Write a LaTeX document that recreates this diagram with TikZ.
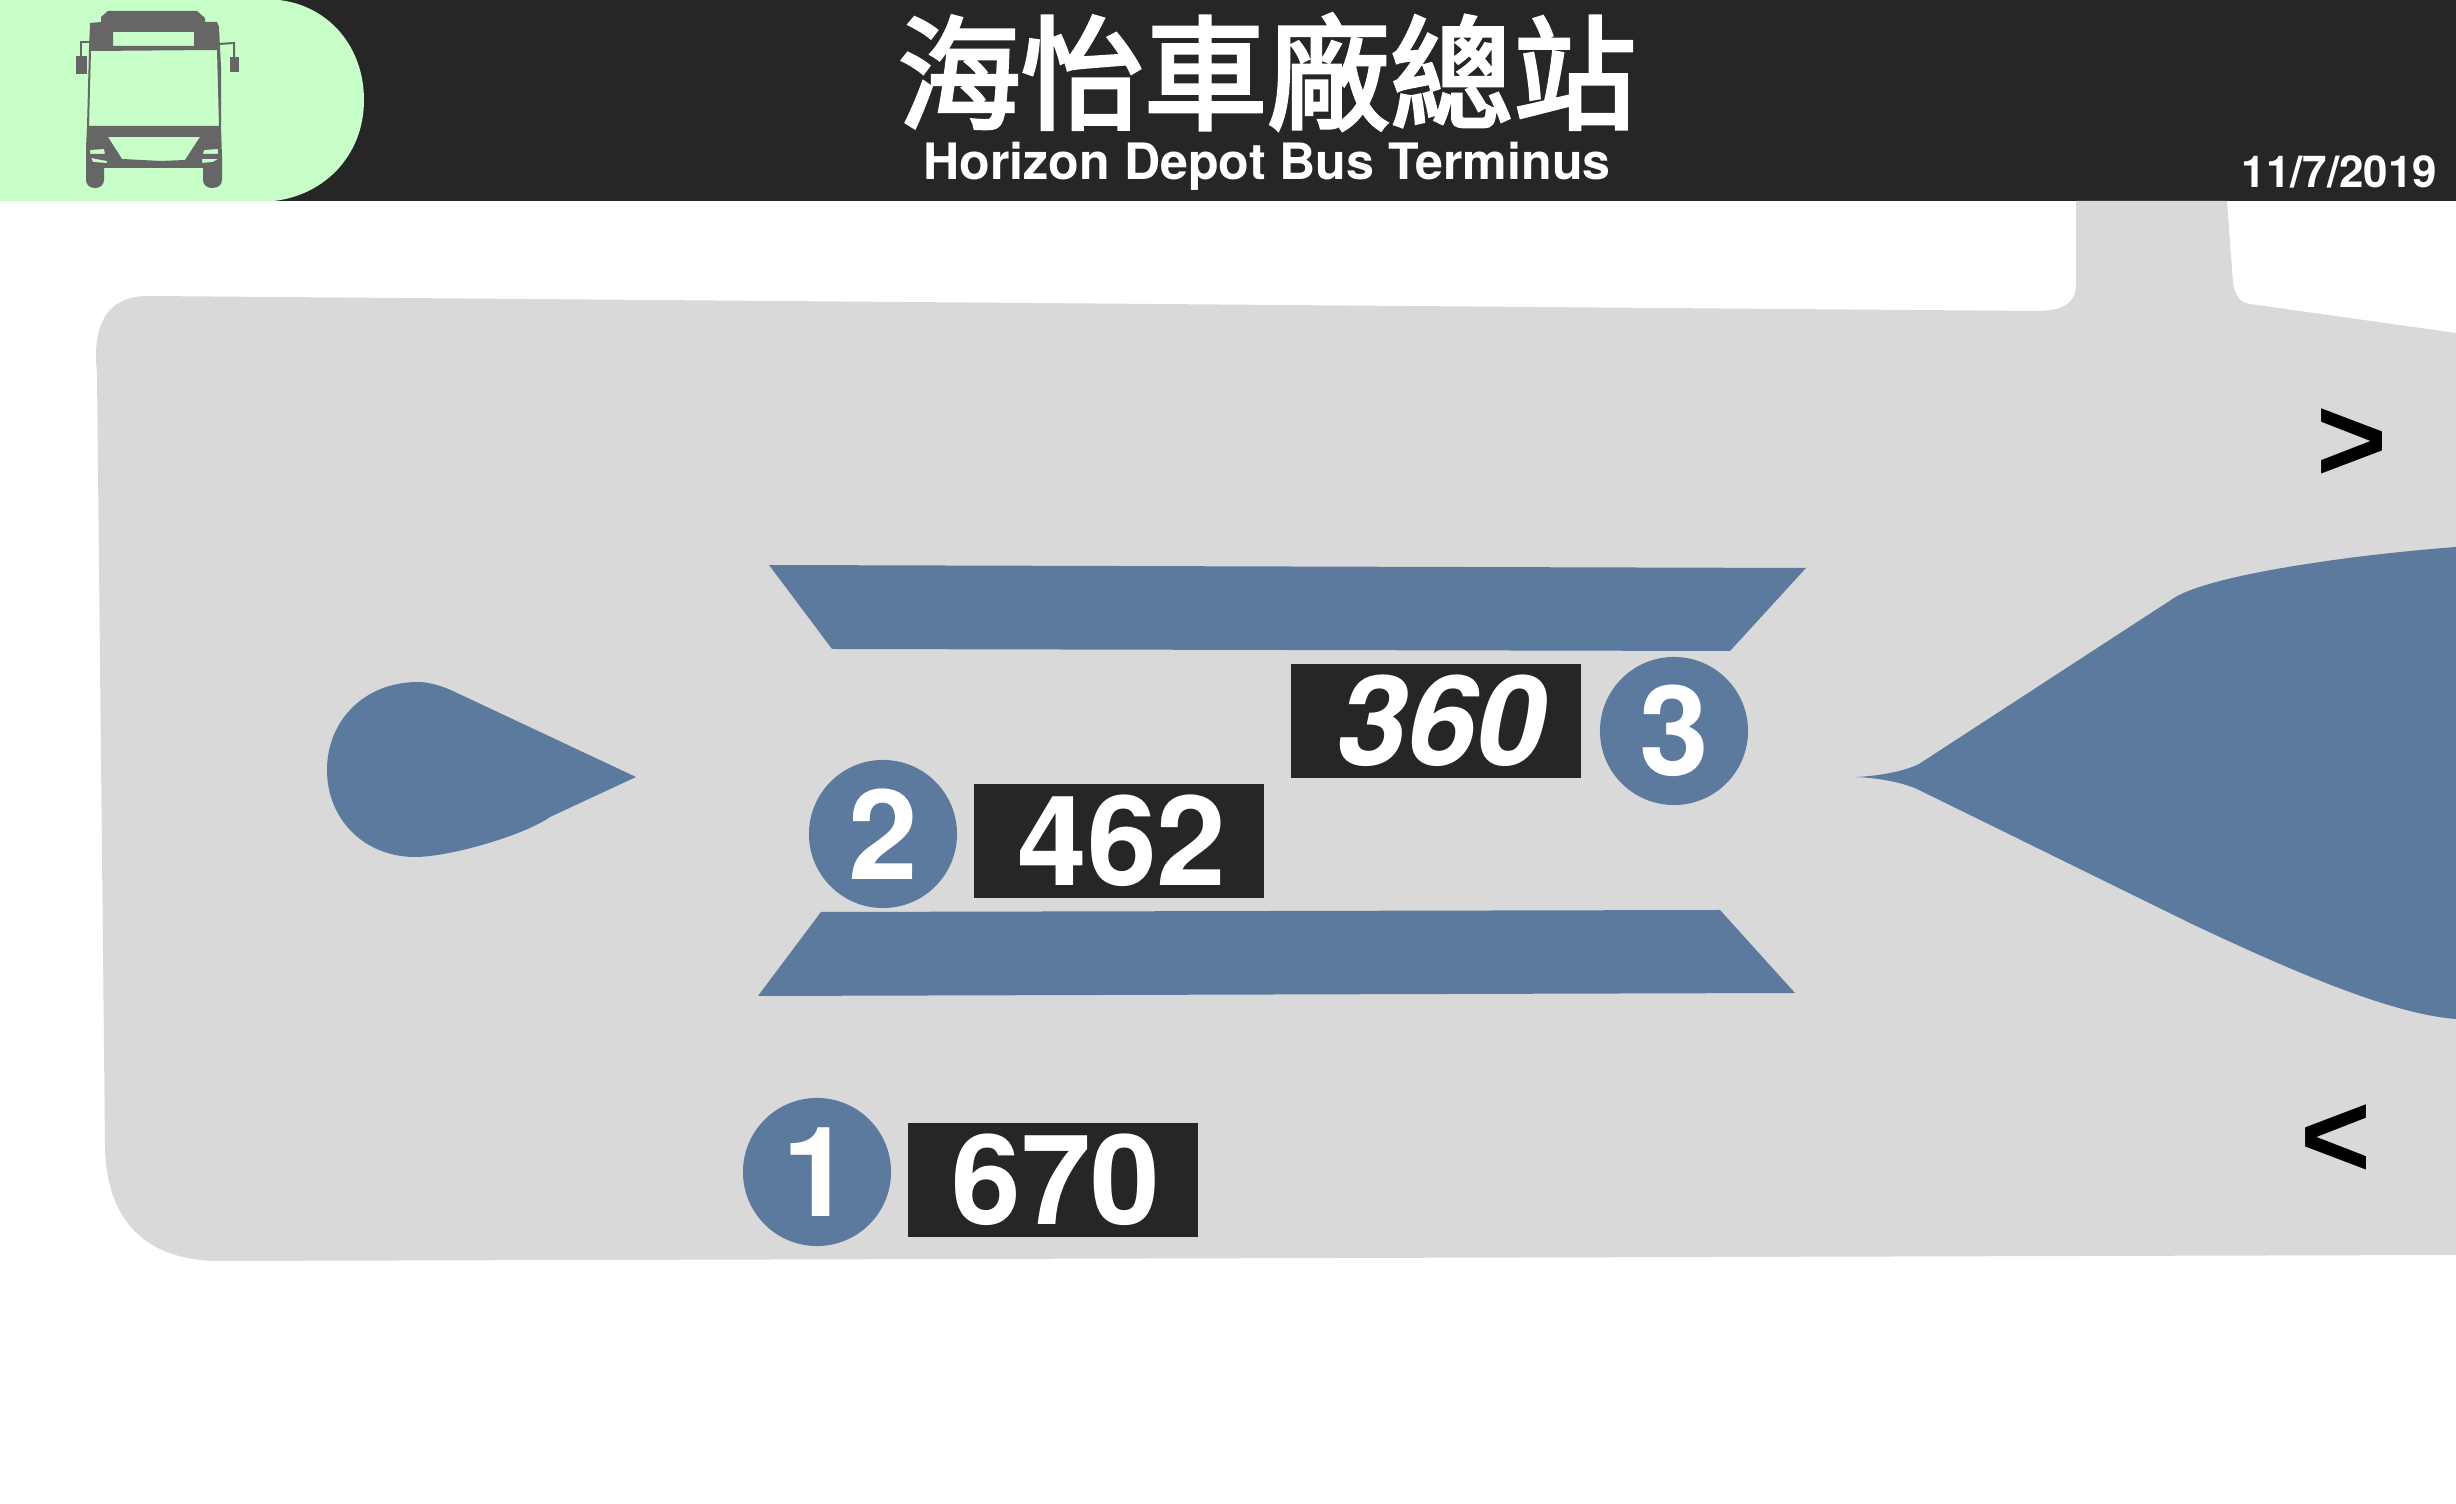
\documentclass[tikz,border=0pt]{standalone}
\usepackage{fontspec}
\setmainfont{TeX Gyre Heros}
\newfontfamily\signfont{Liberation Sans}
\newfontfamily\cjkfont[FakeBold=3]{Noto Sans CJK TC}
\usepackage{tikz}
\definecolor{headdark}{HTML}{262626}
\definecolor{headgreen}{HTML}{C8FFC8}
\definecolor{busgrey}{HTML}{666666}
\definecolor{ground}{HTML}{D9D9D9}
\definecolor{island}{HTML}{5C7A9E}

\begin{document}
\begin{tikzpicture}[x=0.01cm,y=-0.01cm]

\tikzset{route/.style={
  rectangle,
  inner sep=0pt,
  minimum width=2.9cm,
  minimum height=1.14cm,
  fill=headdark, text=white,
  font=\fontsize{35.6}{36}\selectfont\bfseries
  }}
\tikzset{bay/.style={
  circle,
  inner sep=0pt,
  minimum size=1.48cm,
  fill=island, text=white,
  font=\fontsize{35.6}{36}\selectfont\bfseries
  }}
\tikzset{sign/.style={
  inner sep=0pt,
  font=\fontsize{34.5}{36}\selectfont\signfont\bfseries
  }}

\useasboundingbox (0,0) rectangle (2456,1504);

% header
\fill[headdark] (0,0) rectangle (2456,201);
\fill[headgreen] (0,0) -- (279,0) .. controls (330,6) and (364,48) .. (364,100)
  .. controls (364,155) and (325,195) .. (274,201) -- (0,201) -- cycle;

% bus
\fill[busgrey,even odd rule] (101,17) -- (108,11) -- (197,11) -- (205,18) -- (205,22) -- (217,22) -- (219,27)
  -- (221,67) -- (221,127) -- (222,157) -- (222,180) .. controls (222,185) and (218,188) .. (212,188)
  .. controls (207,188) and (203,185) .. (203,180) -- (203,168) -- (104,168) -- (104,180)
  .. controls (104,185) and (100,188) .. (95,188) .. controls (90,188) and (86,185) .. (86,180)
  -- (86,148) -- (87,127) -- (89,50) -- (90,23) -- (101,22) -- cycle
  (113,32) rectangle (194,46)
  (91,51) -- (217,50) -- (219,126) -- (89,126) -- cycle
  (108,137) -- (200,137) -- (185,160) -- (161,161) -- (122,159) -- cycle
  (90,150) -- (104,149) -- (105,154) -- (90,154) -- cycle
  (91,158) -- (107,161) -- (107,163) -- (93,162) -- cycle
  (204,150) -- (218,149) -- (218,154) -- (203,154) -- cycle
  (202,159) -- (218,159) -- (213,162) -- (202,163) -- cycle;
\fill[busgrey] (76,56) rectangle (87,74);
\fill[busgrey] (230,57) rectangle (239,72);
\draw[busgrey,line width=0.02cm] (90,42) -- (81,42) -- (81,56);
\draw[busgrey,line width=0.02cm] (219,44) -- (234,43) -- (234,57);

% ground
\fill[ground] (97,373) .. controls (93,335) and (100,296) .. (148,296) -- (2036,311)
  .. controls (2060,311) and (2076,305) .. (2076,284) -- (2076,201) -- (2227,201) -- (2233,283)
  .. controls (2235,295) and (2240,303) .. (2250,304) -- (2456,333) -- (2456,1255)
  -- (213,1261) .. controls (140,1258) and (105,1215) .. (105,1143) -- cycle;

% islands
\fill[island] (769,565) -- (1806,568) -- (1730,651) -- (832,649) -- cycle;
\fill[island] (821,912) -- (1720,910) -- (1795,993) -- (758,996) -- cycle;
\fill[island] (636,777) -- (550,817) .. controls (525,835) and (450,857) .. (415,857)
  .. controls (365,857) and (327,820) .. (327,770) .. controls (327,720) and (365,682) .. (418,682)
  .. controls (430,682) and (445,687) .. (455,692) -- cycle;
\fill[island] (1856,777) .. controls (1880,776) and (1905,771) .. (1919,764) -- (2174,598)
  .. controls (2210,575) and (2350,555) .. (2456,547) -- (2456,1019)
  .. controls (2390,1014) and (2290,970) .. (2194,925) -- (1919,790)
  .. controls (1905,783) and (1880,778) .. (1856,777) -- cycle;

% labels
\node[anchor=center,inner sep=0pt,text=white,font=\fontsize{35}{36}\selectfont\cjkfont] (title) at (1267,72) {海怡車廠總站};
\node[anchor=base,inner sep=0pt,text=white,font=\fontsize{14.26}{15}\selectfont\bfseries] (titleen) at (1267,180) {Horizon Depot Bus Terminus};
\node[anchor=base east,inner sep=0pt,text=white,font=\fontsize{12.5}{13}\selectfont\bfseries] (date) at (2438,188) {11/7/2019};

\node[route] (r360) at (1436,721) {\hspace{1mm}\itshape 360};
\node[route] (r462) at (1119,841) {\hspace{0.6mm}462};
\node[route] (r670) at (1053,1180) {\hspace{0.6mm}670};
\node[bay] (b3) at (1674,731) {3};
\node[bay] (b2) at (883,834) {2};
\node[bay] (b1) at (817,1172) {1};

\node[sign] (in) at (2352,445) {>};
\node[sign] (out) at (2336,1141) {<};

\end{tikzpicture}
\end{document}
